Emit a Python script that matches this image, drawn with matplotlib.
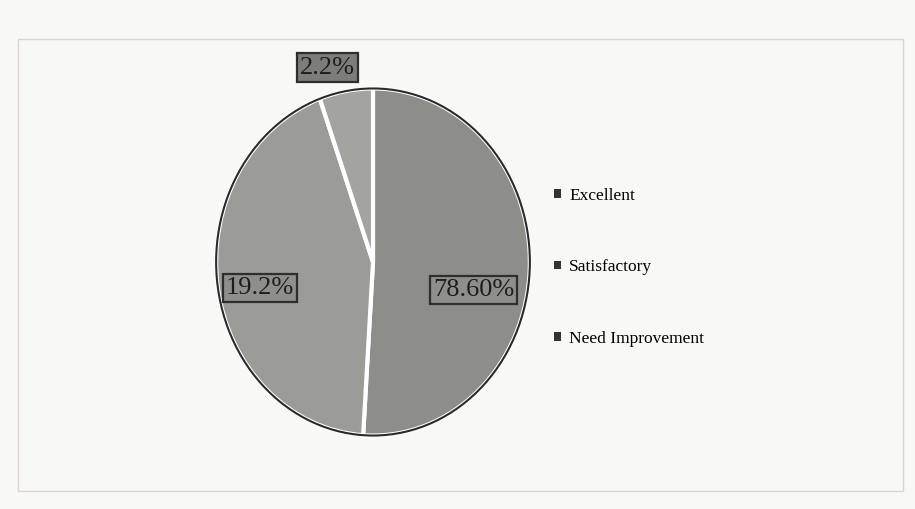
import matplotlib.pyplot as plt
from matplotlib.patches import Rectangle

# Data (slice sizes follow the drawn geometry,
# label texts are the ones printed on the chart)
categories = ['Excellent', 'Satisfactory', 'Need Improvement']
slice_sizes = [51.0, 43.5, 5.5]
label_texts = ['78.60%', '19.2%', '2.2%']

colors = ['#8d8d89', '#9b9b97', '#a3a39f']
label_pos = [(0.64, -0.16), (-0.72, -0.15), (-0.29, 1.12)]
label_fill = ['#8e8e8a', '#8e8e8a', '#7c7c78']

fig = plt.figure(figsize=(9.15, 5.09), dpi=100)
fig.patch.set_facecolor('#f8f8f6')

# faint frame of the printed chart
fig.add_artist(Rectangle((18 / 915, 18 / 509), 885 / 915, 452 / 509,
                         transform=fig.transFigure, fill=False,
                         edgecolor='#ddd3d7', linewidth=1))

ax = fig.add_axes([213 / 915, 70 / 509, 320 / 915, 354 / 509])
wedges, _ = ax.pie(slice_sizes, colors=colors, startangle=90, counterclock=False,
                   wedgeprops=dict(edgecolor='white', linewidth=3))
# dark outer outline
ax.pie([1], colors=['none'], startangle=90,
       wedgeprops=dict(edgecolor='#2a2a2a', linewidth=1.5, fill=False))
ax.set_aspect('auto')
ax.set_xlim(-1.02, 1.02)
ax.set_ylim(-1.02, 1.02)
ax.axis('off')

for txt, (x, y), fc in zip(label_texts, label_pos, label_fill):
    ax.text(x, y, txt, ha='center', va='center', fontsize=19,
            family='Liberation Serif', color='#1e1e1e', clip_on=False,
            bbox=dict(boxstyle='square,pad=0.12', facecolor=fc,
                      edgecolor='#2e2e2e', linewidth=1.6))

leg = fig.legend(wedges, categories, loc='upper left',
                 bbox_to_anchor=(538 / 915, 1 - 172 / 509),
                 frameon=False, labelspacing=3.2, handlelength=0.4,
                 handleheight=0.4, handletextpad=0.5,
                 prop={'family': 'Liberation Serif', 'size': 12.5})
for h in leg.legend_handles:
    h.set_facecolor('#333333')
    h.set_edgecolor('#333333')
    h.set_linewidth(0)

fig.savefig('out.png', dpi=100, facecolor=fig.get_facecolor())
